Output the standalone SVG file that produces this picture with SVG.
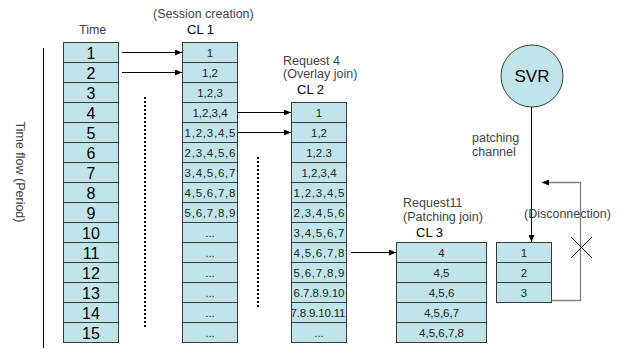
<svg xmlns="http://www.w3.org/2000/svg" width="626" height="349" viewBox="0 0 626 349">
<defs>
<marker id="ah" markerWidth="8" markerHeight="6" refX="7" refY="3" orient="auto" markerUnits="userSpaceOnUse">
<path d="M0,0 L7,3 L0,6 z" fill="#000"/>
</marker>
<style>
.cell{fill:#C0E4EA;stroke:#3a3a3a;stroke-width:1}
.tn{font-family:"Liberation Sans",Arial,sans-serif;font-size:16px;fill:#000;text-anchor:middle}
.cn{font-family:"Liberation Sans",Arial,sans-serif;font-size:11.5px;fill:#222;text-anchor:middle}
.lb{font-family:"Liberation Sans",Arial,sans-serif;font-size:12.5px;fill:#444}
.cl{font-family:"Liberation Sans",Arial,sans-serif;font-size:13px;fill:#000}
.ln{stroke:#000;stroke-width:1;fill:none}
.dot{stroke:#000;stroke-width:2;stroke-dasharray:2 2;fill:none}
</style>
</defs>
<rect width="626" height="349" fill="#fff"/>

<g id="labels">
<text class="lb" x="153" y="18">(Session creation)</text>
<text class="cl" x="187" y="34">CL 1</text>
<text class="lb" x="79" y="34">Time</text>
<text class="lb" x="283" y="65">Request 4</text>
<text class="lb" x="283" y="78">(Overlay join)</text>
<text class="cl" x="297" y="94">CL 2</text>
<text class="lb" x="403" y="207">Request11</text>
<text class="lb" x="403" y="221">(Patching join)</text>
<text class="cl" x="416" y="237">CL 3</text>
<text class="lb" x="472" y="142">patching</text>
<text class="lb" x="472" y="156">channel</text>
<text class="lb" x="524" y="218" font-size="13.5">(Disconnection)</text>
<text class="lb" x="0" y="0" font-size="14.5" transform="translate(16,172) rotate(90)" text-anchor="middle">Time flow (Period)</text>
</g>

<g id="time-col">
<rect class="cell" x="63.5" y="42.5" width="55" height="20"/>
<rect class="cell" x="63.5" y="62.5" width="55" height="20"/>
<rect class="cell" x="63.5" y="82.5" width="55" height="20"/>
<rect class="cell" x="63.5" y="102.5" width="55" height="20"/>
<rect class="cell" x="63.5" y="122.5" width="55" height="20"/>
<rect class="cell" x="63.5" y="142.5" width="55" height="20"/>
<rect class="cell" x="63.5" y="162.5" width="55" height="20"/>
<rect class="cell" x="63.5" y="182.5" width="55" height="20"/>
<rect class="cell" x="63.5" y="202.5" width="55" height="20"/>
<rect class="cell" x="63.5" y="222.5" width="55" height="20"/>
<rect class="cell" x="63.5" y="242.5" width="55" height="20"/>
<rect class="cell" x="63.5" y="262.5" width="55" height="20"/>
<rect class="cell" x="63.5" y="282.5" width="55" height="20"/>
<rect class="cell" x="63.5" y="302.5" width="55" height="20"/>
<rect class="cell" x="63.5" y="322.5" width="55" height="20"/>
<text class="tn" x="91" y="58.5">1</text>
<text class="tn" x="91" y="78.5">2</text>
<text class="tn" x="91" y="98.5">3</text>
<text class="tn" x="91" y="118.5">4</text>
<text class="tn" x="91" y="138.5">5</text>
<text class="tn" x="91" y="158.5">6</text>
<text class="tn" x="91" y="178.5">7</text>
<text class="tn" x="91" y="198.5">8</text>
<text class="tn" x="91" y="218.5">9</text>
<text class="tn" x="91" y="238.5">10</text>
<text class="tn" x="91" y="258.5">11</text>
<text class="tn" x="91" y="278.5">12</text>
<text class="tn" x="91" y="298.5">13</text>
<text class="tn" x="91" y="318.5">14</text>
<text class="tn" x="91" y="338.5">15</text>
</g>

<g id="cl1">
<rect class="cell" x="182.5" y="42.5" width="55" height="20"/>
<rect class="cell" x="182.5" y="62.5" width="55" height="20"/>
<rect class="cell" x="182.5" y="82.5" width="55" height="20"/>
<rect class="cell" x="182.5" y="102.5" width="55" height="20"/>
<rect class="cell" x="182.5" y="122.5" width="55" height="20"/>
<rect class="cell" x="182.5" y="142.5" width="55" height="20"/>
<rect class="cell" x="182.5" y="162.5" width="55" height="20"/>
<rect class="cell" x="182.5" y="182.5" width="55" height="20"/>
<rect class="cell" x="182.5" y="202.5" width="55" height="20"/>
<rect class="cell" x="182.5" y="222.5" width="55" height="20"/>
<rect class="cell" x="182.5" y="242.5" width="55" height="20"/>
<rect class="cell" x="182.5" y="262.5" width="55" height="20"/>
<rect class="cell" x="182.5" y="282.5" width="55" height="20"/>
<rect class="cell" x="182.5" y="302.5" width="55" height="20"/>
<rect class="cell" x="182.5" y="322.5" width="55" height="20"/>
<text class="cn" x="210" y="57">1</text>
<text class="cn" x="210" y="77">1,2</text>
<text class="cn" x="210" y="97">1,2,3</text>
<text class="cn" x="210" y="117">1,2,3,4</text>
<text class="cn" x="210" y="137" textLength="51">1,2,3,4,5</text>
<text class="cn" x="210" y="157" textLength="51">2,3,4,5,6</text>
<text class="cn" x="210" y="177" textLength="51">3,4,5,6,7</text>
<text class="cn" x="210" y="197" textLength="51">4,5,6,7,8</text>
<text class="cn" x="210" y="217" textLength="51">5,6,7,8,9</text>
<text class="cn" x="210" y="237">...</text>
<text class="cn" x="210" y="257">...</text>
<text class="cn" x="210" y="277">...</text>
<text class="cn" x="210" y="297">...</text>
<text class="cn" x="210" y="317">...</text>
<text class="cn" x="210" y="337">...</text>
</g>

<g id="cl2">
<rect class="cell" x="291.5" y="102.5" width="55" height="20"/>
<rect class="cell" x="291.5" y="122.5" width="55" height="20"/>
<rect class="cell" x="291.5" y="142.5" width="55" height="20"/>
<rect class="cell" x="291.5" y="162.5" width="55" height="20"/>
<rect class="cell" x="291.5" y="182.5" width="55" height="20"/>
<rect class="cell" x="291.5" y="202.5" width="55" height="20"/>
<rect class="cell" x="291.5" y="222.5" width="55" height="20"/>
<rect class="cell" x="291.5" y="242.5" width="55" height="20"/>
<rect class="cell" x="291.5" y="262.5" width="55" height="20"/>
<rect class="cell" x="291.5" y="282.5" width="55" height="20"/>
<rect class="cell" x="291.5" y="302.5" width="55" height="20"/>
<rect class="cell" x="291.5" y="322.5" width="55" height="20"/>
<text class="cn" x="319" y="117">1</text>
<text class="cn" x="319" y="137">1,2</text>
<text class="cn" x="319" y="157">1,2.3</text>
<text class="cn" x="319" y="177">1,2,3,4</text>
<text class="cn" x="319" y="197" textLength="51">1,2,3,4,5</text>
<text class="cn" x="319" y="217" textLength="51">2,3,4,5,6</text>
<text class="cn" x="319" y="237" textLength="51">3,4,5,6,7</text>
<text class="cn" x="319" y="257" textLength="51">4,5,6,7,8</text>
<text class="cn" x="319" y="277" textLength="51">5,6,7,8,9</text>
<text class="cn" x="319" y="297" font-size="10.5" textLength="51">6.7.8.9.10</text>
<text class="cn" x="318" y="317" font-size="10.5" textLength="55">7.8.9.10.11</text>
<text class="cn" x="319" y="337">...</text>
</g>

<g id="cl3">
<rect class="cell" x="396.5" y="242.5" width="90" height="20"/>
<rect class="cell" x="396.5" y="262.5" width="90" height="20"/>
<rect class="cell" x="396.5" y="282.5" width="90" height="20"/>
<rect class="cell" x="396.5" y="302.5" width="90" height="20"/>
<rect class="cell" x="396.5" y="322.5" width="90" height="20"/>
<text class="cn" x="441.5" y="257">4</text>
<text class="cn" x="441.5" y="277">4,5</text>
<text class="cn" x="441.5" y="297">4,5,6</text>
<text class="cn" x="441.5" y="317">4,5,6,7</text>
<text class="cn" x="441.5" y="337">4,5,6,7,8</text>
</g>

<g id="patch">
<rect class="cell" x="496.5" y="242.5" width="55" height="20"/>
<rect class="cell" x="496.5" y="262.5" width="55" height="20"/>
<rect class="cell" x="496.5" y="282.5" width="55" height="20"/>
<text class="cn" x="524" y="257">1</text>
<text class="cn" x="524" y="277">2</text>
<text class="cn" x="524" y="297">3</text>
</g>

<g id="svr">
<circle cx="532" cy="76" r="31" fill="#C0E4EA" stroke="#3a3a3a" stroke-width="1"/>
<text x="532" y="82" text-anchor="middle" font-family="Liberation Sans,Arial,sans-serif" font-size="17" fill="#000">SVR</text>
</g>

<g id="connectors">
<line class="ln" x1="43.5" y1="48" x2="43.5" y2="348"/>
<line class="ln" x1="122" y1="52.5" x2="182" y2="52.5" marker-end="url(#ah)"/>
<line class="ln" x1="122" y1="72.5" x2="182" y2="72.5" marker-end="url(#ah)"/>
<line class="ln" x1="237.5" y1="112.5" x2="291" y2="112.5" marker-end="url(#ah)"/>
<line class="ln" x1="237.5" y1="132.5" x2="291" y2="132.5" marker-end="url(#ah)"/>
<line class="ln" x1="351" y1="252.5" x2="396" y2="252.5" marker-end="url(#ah)"/>
<line class="ln" x1="531.5" y1="107" x2="531.5" y2="242" marker-end="url(#ah)"/>
<polyline points="551.5,300.5 580.5,300.5 580.5,182.5 542,182.5" fill="none" stroke="#808080" stroke-width="1.3" marker-end="url(#ah)"/>
<line class="ln" x1="571" y1="237" x2="592" y2="258"/>
<line class="ln" x1="571" y1="258" x2="592" y2="237"/>
<line class="dot" x1="145" y1="97" x2="145" y2="327"/>
<line class="dot" x1="258" y1="157" x2="258" y2="307"/>
</g>
</svg>
